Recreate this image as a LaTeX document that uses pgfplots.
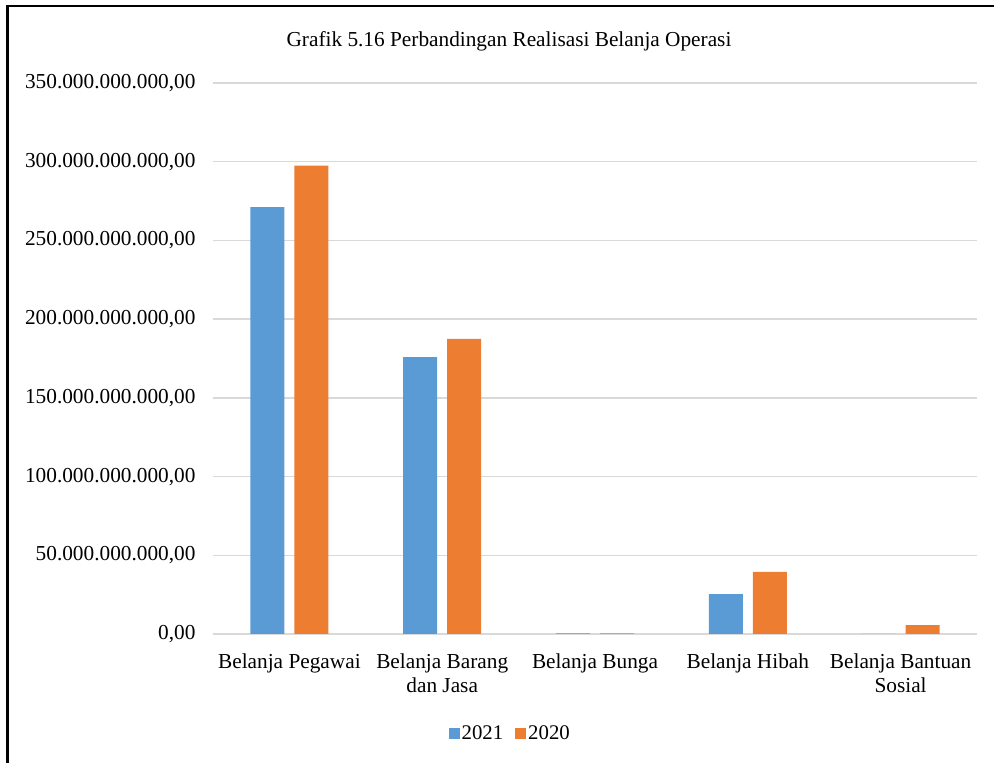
\documentclass[border=0pt]{standalone}
\usepackage{fontspec}
\setmainfont{Liberation Serif}
\usepackage{pgfplots}
\pgfplotsset{compat=1.18}

\definecolor{bar21}{HTML}{5B9BD5}
\definecolor{bar20}{HTML}{ED7D31}
\definecolor{gridgray}{HTML}{D9D9D9}

\begin{document}
\begin{tikzpicture}
\useasboundingbox (0pt,0pt) rectangle (994pt,763pt);
% frame
\draw[line width=2.6pt] (7.6pt,-2pt) -- (7.6pt,757pt) -- (996pt,757pt);
% title
\node[font=\fontsize{21.3}{25}\selectfont] at (509pt,722pt)
  {Grafik 5.16 Perbandingan Realisasi Belanja Operasi};
\begin{axis}[
  at={(213pt,129pt)}, anchor=south west,
  scale only axis,
  width=764pt, height=551pt,
  ybar=10pt, bar width=34pt,
  xmin=-0.5, xmax=4.5,
  ymin=0, ymax=350e9,
  axis line style={draw=none},
  major tick length=0pt,
  ymajorgrids,
  grid style={gridgray, line width=1.4pt},
  xtick={0,1,2,3,4},
  xticklabels={Belanja Pegawai, {Belanja Barang\\dan Jasa}, Belanja Bunga, Belanja Hibah, {Belanja Bantuan\\Sosial}},
  xticklabel style={align=center, font=\fontsize{21.3}{24}\selectfont, anchor=north, yshift=-16pt},
  ytick={0,50e9,100e9,150e9,200e9,250e9,300e9,350e9},
  yticklabels={{0,00},{50.000.000.000,00},{100.000.000.000,00},{150.000.000.000,00},{200.000.000.000,00},{250.000.000.000,00},{300.000.000.000,00},{350.000.000.000,00}},
  yticklabel style={font=\fontsize{21.3}{25}\selectfont, anchor=east, xshift=-14pt},
  scaled y ticks=false,
  legend style={at={(0.389,-0.18)}, anchor=center, draw=none, legend columns=2,
    font=\fontsize{20.8}{24}\selectfont,
    /tikz/every even column/.append style={column sep=10pt}},
  legend image code/.code={\fill (0pt,-5.5pt) rectangle (11pt,5.5pt);},
]
\addplot[fill=bar21, draw=none] coordinates {(0,271.1e9) (1,175.8e9) (2,0.4e9) (3,25.4e9) (4,0)};
\addplot[fill=bar20, draw=none] coordinates {(0,297.5e9) (1,187.4e9) (2,0.4e9) (3,39.4e9) (4,5.7e9)};
\legend{2021,2020}
\end{axis}
\end{tikzpicture}
\end{document}
